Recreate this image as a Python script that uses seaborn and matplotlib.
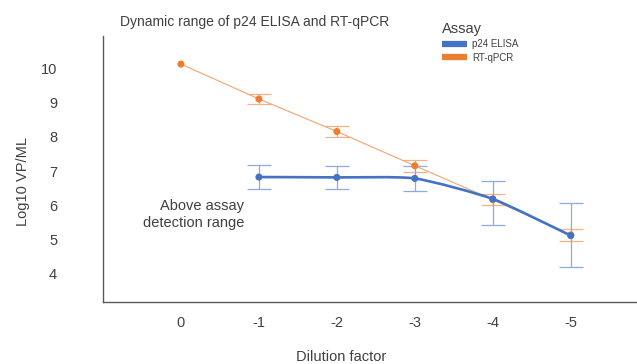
import matplotlib
matplotlib.use('Agg')
import matplotlib.pyplot as plt
from matplotlib.path import Path
from matplotlib.patches import PathPatch
from matplotlib.lines import Line2D
import seaborn as sns
import pandas as pd
import numpy as np

# valores
dilution = [0, -1, -2, -3, -4, -5]
rtqpcr = [10.13, 9.11, 8.16, 7.16, 6.17, 5.14]
rtqpcr_err = [0.0, 0.16, 0.16, 0.17, 0.16, 0.17]

elisa_dilution = [-1, -2, -3, -4, -5]
elisa = [6.83, 6.82, 6.79, 6.19, 5.12]
elisa_err_low = [0.35, 0.35, 0.36, 0.76, 0.92]
elisa_err_high = [0.34, 0.34, 0.35, 0.53, 0.95]

tick_labels = ['0', '-1', '-2', '-3', '-4', '-5']

blue = '#4472C4'
orange = '#ED7D31'

sns.set_theme(style='white')
plt.rcParams['font.family'] = ['Liberation Sans', 'DejaVu Sans']
plt.rcParams['axes.unicode_minus'] = False

df_q = pd.DataFrame({'dilution': dilution, 'value': rtqpcr})
df_e = pd.DataFrame({'dilution': elisa_dilution, 'value': elisa})

fig = plt.figure(figsize=(6.37, 3.64), dpi=100)
ax = fig.add_axes([103/637, 1 - 302/364, 1 - 103/637, 266/364])

# barras de erro
ax.errorbar(dilution[1:], rtqpcr[1:], yerr=rtqpcr_err[1:], fmt='none', ecolor='#F4B183',
            elinewidth=0.9, capsize=8.6, capthick=0.9, zorder=2)
ax.errorbar(elisa_dilution, elisa, yerr=[elisa_err_low, elisa_err_high], fmt='none', ecolor='#8FAADC',
            elinewidth=0.9, capsize=8.6, capthick=0.9, zorder=2)

# RT-qPCR: linha reta fina
sns.lineplot(data=df_q, x='dilution', y='value', ax=ax, color='#F4A46C', linewidth=0.8, zorder=3)
sns.scatterplot(data=df_q, x='dilution', y='value', ax=ax, color=orange, s=26, edgecolor='none', zorder=4)

# p24 ELISA: linha suavizada (estilo Excel)
px = np.array(elisa_dilution, dtype=float)
py = np.array(elisa, dtype=float)
k = 0.1
verts = [(px[0], py[0])]
codes = [Path.MOVETO]
n = len(px)
for i in range(n - 1):
    i0 = max(i - 1, 0)
    i3 = min(i + 2, n - 1)
    c1 = (px[i] + (px[i + 1] - px[i0]) * k, py[i] + (py[i + 1] - py[i0]) * k)
    c2 = (px[i + 1] - (px[i3] - px[i]) * k, py[i + 1] - (py[i3] - py[i]) * k)
    verts += [c1, c2, (px[i + 1], py[i + 1])]
    codes += [Path.CURVE4, Path.CURVE4, Path.CURVE4]
ax.add_patch(PathPatch(Path(verts, codes), fill=False, edgecolor=blue, linewidth=1.9, zorder=5))
sns.scatterplot(data=df_e, x='dilution', y='value', ax=ax, color=blue, s=26, edgecolor='none', zorder=6)

ax.set_xlim(1, -5.85)
ax.set_ylim(3.18, 10.95)
ax.set_xticks(dilution)
ax.set_xticklabels(tick_labels)
ax.set_yticks([4, 5, 6, 7, 8, 9, 10])
ax.tick_params(axis='both', length=0, labelsize=10.5, colors='#404040')
ax.tick_params(axis='y', pad=33)
ax.tick_params(axis='x', pad=10)

for s in ['top', 'right']:
    ax.spines[s].set_visible(False)
for s in ['left', 'bottom']:
    ax.spines[s].set_color('#595959')
    ax.spines[s].set_linewidth(1.0)

ax.set_xlabel('Dilution factor', fontsize=10.5, color='#404040', va='center')
ax.set_ylabel('Log10 VP/ML', fontsize=10.5, color='#404040', va='center')
ax.xaxis.set_label_coords(238/534, -55/266)
ax.yaxis.set_label_coords(-80/534, 121/266)

ax.text(-0.81, 5.74, 'Above assay\ndetection range', ha='right', va='center', multialignment='right',
        fontsize=10.5, color='#404040', linespacing=1.3)

fig.text(255/637, 1 - 22/364, 'Dynamic range of p24 ELISA and RT-qPCR', ha='center', va='center',
         fontsize=10, color='#404040')

handles = [Line2D([], [], color=blue, linewidth=4.5, solid_capstyle='butt'),
           Line2D([], [], color=orange, linewidth=4.5, solid_capstyle='butt')]
leg = fig.legend(handles, ['p24 ELISA', 'RT-qPCR'], title='Assay', loc='upper left',
                 bbox_to_anchor=(435/637, 1 - 15/364), frameon=False, fontsize=7,
                 title_fontsize=10.5, handlelength=2.6, handletextpad=0.5, labelspacing=0.35,
                 borderpad=0.2, alignment='left')
leg.get_title().set_color('#404040')
for t in leg.get_texts():
    t.set_color('#404040')

fig.savefig('out.png', dpi=100)
plt.close()
